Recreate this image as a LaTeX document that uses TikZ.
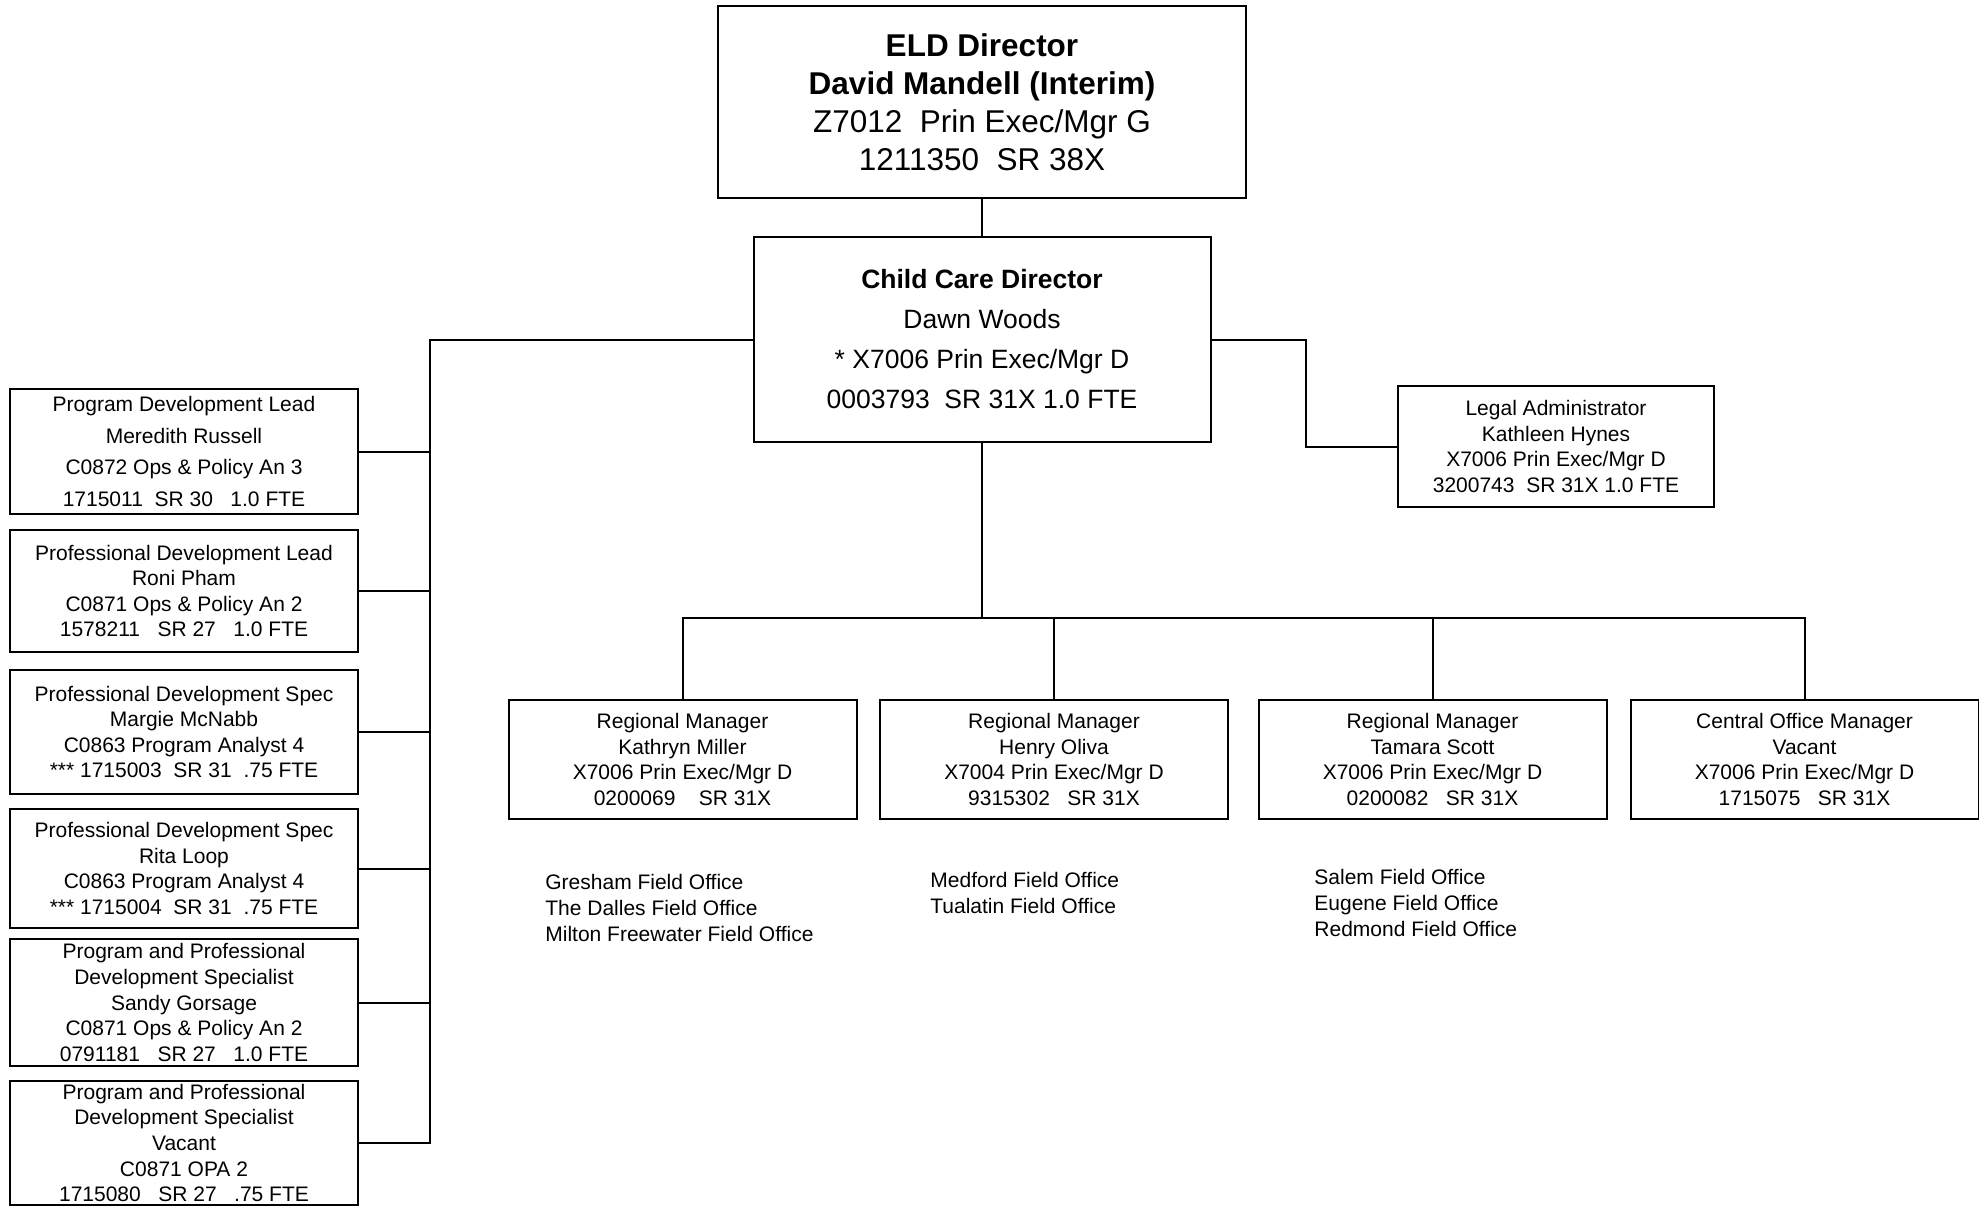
\documentclass[tikz,border=0pt]{standalone}
\usepackage{fontspec}
\setmainfont{Liberation Sans}
\begin{document}
\begin{tikzpicture}[x=0.5pt,y=-0.5pt,
  box/.style={draw, line width=1pt, rectangle, inner sep=0pt, align=center},
  small/.style={font=\fontsize{10.5}{12.8}\selectfont},
  wide/.style={font=\fontsize{10.5}{15.75}\selectfont},
  big/.style={font=\fontsize{15.75}{19}\selectfont},
  mid/.style={font=\fontsize{13.25}{20}\selectfont},
  conn/.style={line width=1pt},
  office/.style={inner sep=0pt, align=left, anchor=west, font=\fontsize{10.5}{12.8}\selectfont},
  lbox/.style={box, minimum width=174pt},
  rbox/.style={box, small, minimum width=174pt, minimum height=59.5pt}
]
\useasboundingbox (0,0) rectangle (1979,1207);

% top
\node[box, big, minimum width=264pt, minimum height=96pt] (eld) at (982,102)
  {\textbf{ELD Director}\\ \textbf{David Mandell (Interim)}\\ Z7012\ \ Prin Exec/Mgr G\\ 1211350\ \ SR 38X};
\node[box, mid, minimum width=228.5pt, minimum height=102.5pt] (cc) at (982,339.5)
  {\textbf{Child Care Director}\\ Dawn Woods\\ * X7006 Prin Exec/Mgr D\\ 0003793\ \ SR 31X 1.0 FTE};
\node[box, small, minimum width=158pt, minimum height=60.5pt] (legal) at (1556,446.5)
  {Legal Administrator\\ Kathleen Hynes\\ X7006 Prin Exec/Mgr D\\ 3200743\ \ SR 31X 1.0 FTE};

% left column
\node[lbox, wide, minimum height=62.5pt] (l1) at (184,451.5)
  {Program Development Lead\\ Meredith Russell\\ C0872 Ops \& Policy An 3\\ 1715011\ \ SR 30\ \ \ 1.0 FTE};
\node[lbox, small, minimum height=61pt] (l2) at (184,591)
  {Professional Development Lead\\ Roni Pham\\ C0871 Ops \& Policy An 2\\ 1578211\ \ \ SR 27\ \ \ 1.0 FTE};
\node[lbox, small, minimum height=62pt] (l3) at (184,732)
  {Professional Development Spec\\ Margie McNabb\\ C0863 Program Analyst 4\\ *** 1715003\ \ SR 31\ \ .75 FTE};
\node[lbox, small, minimum height=59.5pt] (l4) at (184,868.5)
  {Professional Development Spec\\ Rita Loop\\ C0863 Program Analyst 4\\ *** 1715004\ \ SR 31\ \ .75 FTE};
\node[lbox, small, minimum height=63.5pt] (l5) at (184,1002.5)
  {Program and Professional\\ Development Specialist\\ Sandy Gorsage\\ C0871 Ops \& Policy An 2\\ 0791181\ \ \ SR 27\ \ \ 1.0 FTE};
\node[lbox, small, minimum height=62pt] (l6) at (184,1143)
  {Program and Professional\\ Development Specialist\\ Vacant\\ C0871 OPA 2\\ 1715080\ \ \ SR 27\ \ \ .75 FTE};

% regional row
\node[rbox] (rm1) at (682.5,759.5)
  {Regional Manager\\ Kathryn Miller\\ X7006 Prin Exec/Mgr D\\ 0200069\ \ \ \ SR 31X};
\node[rbox] (rm2) at (1054,759.5)
  {Regional Manager\\ Henry Oliva\\ X7004 Prin Exec/Mgr D\\ 9315302\ \ \ SR 31X};
\node[rbox] (rm3) at (1432.5,759.5)
  {Regional Manager\\ Tamara Scott\\ X7006 Prin Exec/Mgr D\\ 0200082\ \ \ SR 31X};
\node[rbox] (com) at (1804.5,759.5)
  {Central Office Manager\\ Vacant\\ X7006 Prin Exec/Mgr D\\ 1715075\ \ \ SR 31X};

% field offices
\node[office] (fo1) at (545,908) {Gresham Field Office\\ The Dalles Field Office\\ Milton Freewater Field Office};
\node[office] (fo2) at (930,893) {Medford Field Office\\ Tualatin Field Office};
\node[office] (fo3) at (1314,903) {Salem Field Office\\ Eugene Field Office\\ Redmond Field Office};

% connectors
\coordinate (lb) at (430,339.5);
\coordinate (rb) at (1306,339.5);
\coordinate (hb) at (982,618);

\draw[conn] (eld.south) -- (cc.north);
\draw[conn] (cc.west) -- (lb) -- (lb |- l6.east) -- (l6.east);
\foreach \n in {l1,l2,l3,l4,l5} \draw[conn] (\n.east) -- (\n.east -| lb);
\draw[conn] (cc.east) -- (rb) |- (legal.west);
\draw[conn] (cc.south) -- (hb);
\draw[conn] (rm1.north) -- (rm1.north |- hb) -- (com.north |- hb) -- (com.north);
\draw[conn] (rm2.north) -- (rm2.north |- hb);
\draw[conn] (rm3.north) -- (rm3.north |- hb);
\end{tikzpicture}
\end{document}
